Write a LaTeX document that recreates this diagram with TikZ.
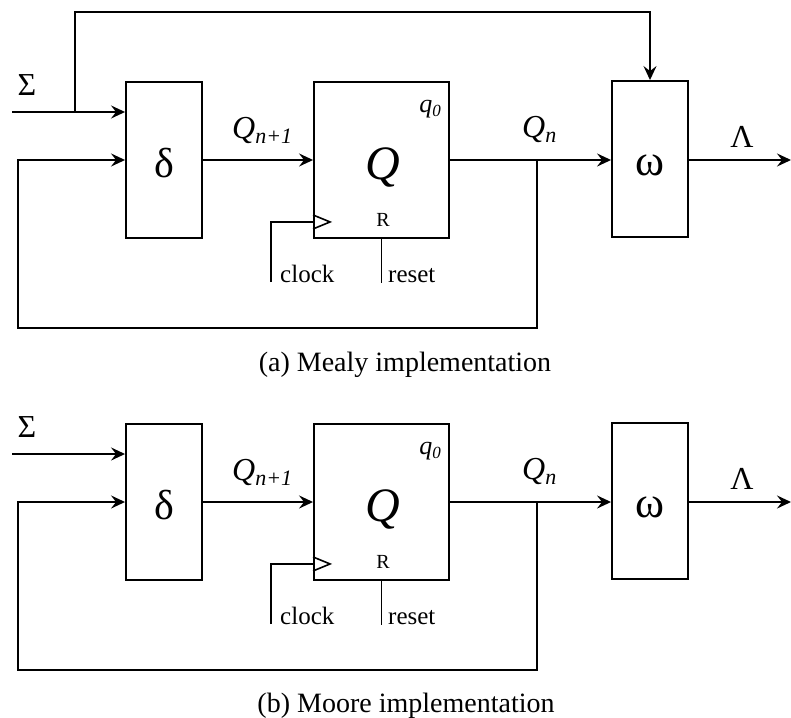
\documentclass[tikz,border=0pt]{standalone}
\usepackage{fontspec}
\setmainfont{Liberation Serif}
\usetikzlibrary{arrows.meta,calc}
\tikzset{
  x=1pt,y=-1pt,
  blk/.style={draw,line width=1.9pt,inner sep=0pt,minimum width=76pt,minimum height=156pt},
  qblk/.style={blk,minimum width=135pt},
  wire/.style={line width=1.8pt},
  thinw/.style={line width=1.1pt},
  arr/.style={wire,-{Stealth[length=14pt,width=13pt,inset=5pt]}},
  fs/.style={font=\fontsize{#1}{#1}\selectfont},
  lbl/.style={inner sep=0pt,anchor=base},
}
\newcommand\fsmbody[1]{%
  \node[blk] (#1d) at (164,160) {};
  \node[qblk] (#1q) at (381.5,160) {};
  \node[blk] (#1w) at (650,159) {};
  \node[lbl,fs=42pt] (#1dl) at (164,177) {δ};
  \node[lbl,fs=48pt] (#1ql) at (383,179) {\textit{Q}};
  \node[lbl,fs=44pt] (#1wl) at (650,175) {ω};
  \node[lbl,fs=20pt] (#1r) at (383,226) {R};
  \node[lbl,anchor=base east,fs=26pt] (#1q0) at (441,112) {\textit{q}\raisebox{-4pt}{\fontsize{17pt}{17pt}\selectfont\textit{0}}};
  \node[lbl,anchor=base west,fs=32pt] (#1qn1) at (232,138) {\textit{Q}\raisebox{-5pt}{\fontsize{22pt}{22pt}\selectfont\textit{n+1}}};
  \node[lbl,anchor=base west,fs=32pt] (#1qn) at (522,137) {\textit{Q}\raisebox{-5pt}{\fontsize{22pt}{22pt}\selectfont\textit{n}}};
  \node[lbl,fs=32pt] (#1sig) at (27,95) {Σ};
  \node[lbl,fs=32pt] (#1lam) at (742,147) {Λ};
  \node[lbl,anchor=base west,fs=25pt] (#1clk) at (280,282) {clock};
  \node[lbl,anchor=base west,fs=25pt] (#1rst) at (388,282) {reset};
  \coordinate (#1sin) at (12,112);
  \coordinate (#1fb) at (537,160);
  \coordinate (#1out) at (791,160);
  \coordinate (#1fbl) at (18,328);
  \coordinate (#1ck) at (271,282);
  \coordinate (#1ckin) at ($(#1q.south west)+(0,-17)$);
  \draw[arr] (#1sin) -- (#1sin -| #1d.west);
  \draw[arr] (#1d.east) -- (#1q.west);
  \draw[line width=2.5pt] (#1q.east) -- (#1fb);
  \draw[arr] (#1fb) -- (#1w.west |- #1fb);
  \draw[arr] (#1w.east |- #1fb) -- (#1out);
  \draw[arr] (#1fb) |- (#1fbl) |- (#1d.west);
  \draw[thinw] (#1ck) |- (#1ckin);
  \draw[line width=1.6pt,line join=miter] ($(#1q.south west)+(0,-24)$) -- ($(#1q.south west)+(17,-17)$) -- ($(#1q.south west)+(0,-10)$);
  \draw[thinw] (#1q.south) -- ++(0,44);
}
\begin{document}
\begin{tikzpicture}
\useasboundingbox (0,0) rectangle (791,717);
\fsmbody{a}
\coordinate (asj) at (75,112);
\coordinate (atop) at (75,12);
\draw[arr] (asj) -- (atop) -| (aw.north);
\node[lbl,fs=28pt] (capa) at (405,371) {(a) Mealy implementation};
\begin{scope}[shift={(0,342)}]
\fsmbody{b}
\end{scope}
\node[lbl,fs=28pt] (capb) at (406,712) {(b) Moore implementation};
\end{tikzpicture}
\end{document}
